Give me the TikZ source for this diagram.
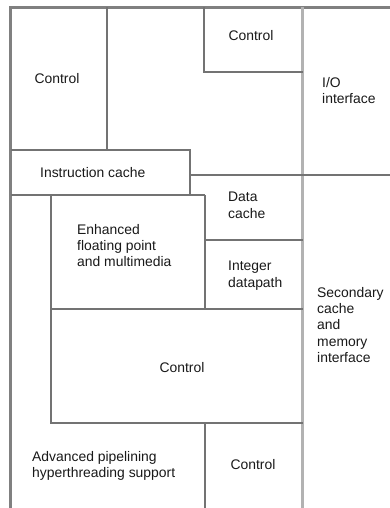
\documentclass[tikz,border=0pt]{standalone}
\usepackage{fontspec}
\setmainfont{Liberation Sans}
\begin{document}
\begin{tikzpicture}[x=1pt,y=-1pt,
  outer/.style={draw=black!50,line width=2.6pt},
  bus/.style={draw=black!30,line width=2.6pt},
  wall/.style={draw=black!55,line width=1.2pt},
  lbl/.style={inner sep=0pt,font=\fontsize{13.9}{16.3}\selectfont,text=black!90},
  lbll/.style={lbl,anchor=north west,align=left}]
\useasboundingbox (0,0) rectangle (390,508);
\fill[white] (0,0) rectangle (390,508);
% outer frame
\coordinate (tl) at (10.5,7.5);
\coordinate (tr) at (390,7.5);
\coordinate (bl) at (10.5,508);
\draw[outer] (tr) -- (tl) -- (bl);
% secondary bus line
\coordinate (vt) at (302.5,7.5);
\coordinate (vb) at (302.5,508);
\draw[bus] (vt) -- (vb);
% inner walls
\draw[wall] (107,7.5) -- (107,150);
\draw[wall] (10.5,150) -- (190,150) -- (190,195);
\draw[wall] (10.5,195) -- (205,195);
\draw[wall] (204,7.5) -- (204,72) -- (302.5,72);
\draw[wall] (190,175) -- (390,175);
\draw[wall] (205,195) -- (205,309);
\draw[wall] (205,240) -- (302.5,240);
\draw[wall] (51,195) -- (51,423) -- (302.5,423);
\draw[wall] (51,309) -- (302.5,309);
\draw[wall] (205,423) -- (205,508);
% labels
\node[lbl] (c1) at (57,79) {Control};
\node[lbl] (c2) at (251,36) {Control};
\node[lbll] (io) at (322,77) {I/O\\interface};
\node[lbl,anchor=west] (ic) at (40,173) {Instruction cache};
\node[lbll] (dc) at (228,192) {Data\\cache};
\node[lbll] (fp) at (77,224) {Enhanced\\floating point\\and multimedia};
\node[lbll] (id) at (228,261) {Integer\\datapath};
\node[lbll] (sc) at (317,287) {Secondary\\cache\\and\\memory\\interface};
\node[lbl] (c3) at (182,368) {Control};
\node[lbll] (ap) at (32,451) {Advanced pipelining\\hyperthreading support};
\node[lbl] (c4) at (253,465) {Control};
\end{tikzpicture}
\end{document}
